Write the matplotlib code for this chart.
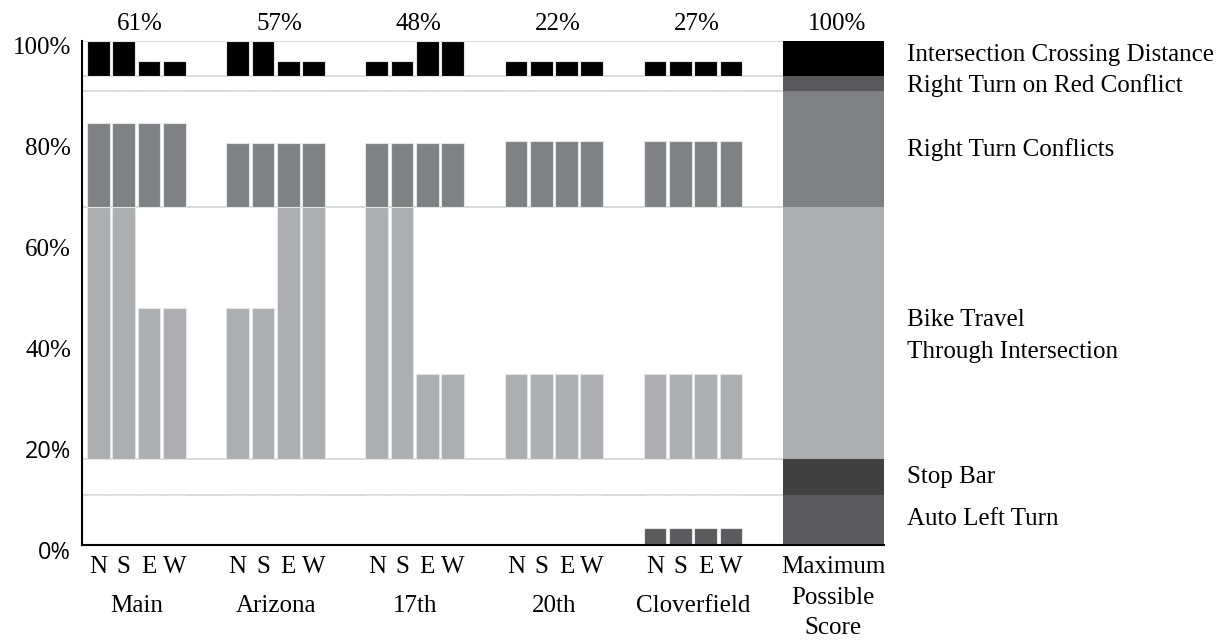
import numpy as np
import matplotlib
matplotlib.use('Agg')
import matplotlib.pyplot as plt
from matplotlib.transforms import ScaledTranslation, blended_transform_factory

plt.rcParams['font.family'] = ['Liberation Serif', 'DejaVu Serif']

groups = ['Main', 'Arizona', '17th', '20th', 'Cloverfield']
approaches = ['N', 'S', 'E', 'W']
scores = ['61%', '57%', '48%', '22%', '27%']
max_label = 'Maximum\nPossible\nScore'
max_score = '100%'

# categories from bottom to top, with the maximum points of each
categories = ['Auto Left Turn', 'Stop Bar', 'Bike Travel\nThrough Intersection',
              'Right Turn Conflicts', 'Right Turn on Red Conflict',
              'Intersection Crossing Distance']
max_points = [10, 7, 50, 23, 3, 7]

# points per group (rows) and approach N, S, E, W (columns)
auto_left = [[0, 0, 0, 0], [0, 0, 0, 0], [0, 0, 0, 0], [0, 0, 0, 0], [3.3, 3.3, 3.3, 3.3]]
stop_bar = [[0, 0, 0, 0], [0, 0, 0, 0], [0, 0, 0, 0], [0, 0, 0, 0], [0, 0, 0, 0]]
bike_travel = [[50, 50, 30, 30], [30, 30, 50, 50], [50, 50, 17, 17], [17, 17, 17, 17], [17, 17, 17, 17]]
right_turn = [[16.8, 16.8, 16.8, 16.8], [12.7, 12.7, 12.7, 12.7], [12.7, 12.7, 12.7, 12.7],
              [13.2, 13.2, 13.2, 13.2], [13.2, 13.2, 13.2, 13.2]]
rtor = [[0, 0, 0, 0], [0, 0, 0, 0], [0, 0, 0, 0], [0, 0, 0, 0], [0, 0, 0, 0]]
crossing = [[7, 7, 3, 3], [7, 7, 3, 3], [3, 3, 7, 7], [3, 3, 3, 3], [3, 3, 3, 3]]

series = [auto_left, stop_bar, bike_travel, right_turn, rtor, crossing]
colors = ['#5b5b5e', '#414142', '#adaeb1', '#808184', '#58585a', '#000000']
label_dy = [0.6, 0.4, -0.5, 0.4, 0.2, 1.3]

bases = np.r_[0, np.cumsum(max_points)]
gstep = 5.5
off = 0.2
bw = 0.9

fig = plt.figure(figsize=(12.32, 6.4), dpi=100)
ax = fig.add_axes([82 / 1232, 95 / 640, 802 / 1232, 504 / 640])

# boundaries between the categories
for b in bases[1:]:
    ax.axhline(b, color='#cfcfcf', lw=1.1, zorder=0.5)

xt, xl = [], []
for g, name in enumerate(groups):
    left = off + g * gstep + np.arange(4)
    for k, s in enumerate(series):
        ax.bar(left, s[g], width=bw, bottom=bases[k], align='edge',
               color=colors[k], edgecolor='#e4e4e4', linewidth=0.8, zorder=2)
    centers = left + bw / 2
    xt += list(centers)
    xl += approaches
    gc = left[0] + (left[-1] + bw - left[0]) / 2
    ax.annotate(scores[g], (gc + 0.15, 100), xytext=(0, 8), textcoords='offset points',
                ha='center', va='baseline', fontsize=18)
    ax.text(gc, -0.133, name, transform=blended_transform_factory(ax.transData, ax.transAxes),
            ha='center', va='baseline', fontsize=18)

# maximum possible score bar
mleft = off + len(groups) * gstep
mw = 4.0
for k in range(len(categories)):
    ax.bar(mleft, max_points[k], width=mw, bottom=bases[k], align='edge',
           color=colors[k], linewidth=0, zorder=2)
mc = mleft + mw / 2
xt.append(mc)
xl.append(max_label)
ax.annotate(max_score, (mc + 0.15, 100), xytext=(0, 8), textcoords='offset points',
            ha='center', va='baseline', fontsize=18)

# category labels on the right
tr = blended_transform_factory(ax.transAxes, ax.transData)
for k, cat in enumerate(categories):
    mid = (bases[k] + bases[k + 1]) / 2 + label_dy[k]
    ax.text(1.0287, mid, cat, transform=tr, ha='left',
            va='center' if '\n' in cat else 'center_baseline', fontsize=18,
            linespacing=1.55)

ax.set_xlim(0, mleft + mw)
ax.set_ylim(0, 100)
ax.set_xticks(xt)
ax.set_xticklabels(xl, fontsize=18, linespacing=1.5)
ax.set_yticks([0, 20, 40, 60, 80, 100])
ax.set_yticklabels(['0%', '20%', '40%', '60%', '80%', '100%'], fontsize=18)
ax.tick_params(length=0)
ax.tick_params(axis='x', pad=8)
ax.tick_params(axis='y', pad=8)
for sp in ['top', 'right']:
    ax.spines[sp].set_visible(False)
for sp in ['left', 'bottom']:
    ax.spines[sp].set_linewidth(1.5)
    ax.spines[sp].set_zorder(3)

shift = ScaledTranslation(0, -5 / 100, fig.dpi_scale_trans)
for lbl in ax.get_yticklabels():
    lbl.set_transform(lbl.get_transform() + shift)
    if lbl.get_text() in ('0%', '20%'):
        lbl.set_family('Open Sans')
        lbl.set_fontsize(17)

fig.savefig('out.png', dpi=100)
